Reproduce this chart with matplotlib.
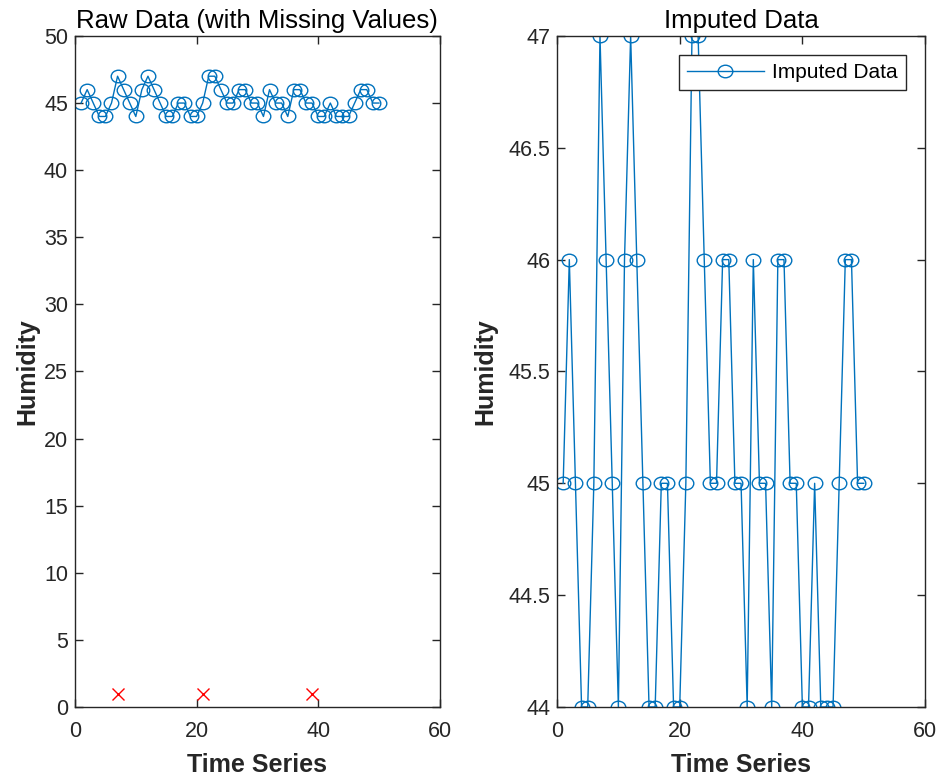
import matplotlib
matplotlib.use('Agg')
import matplotlib.pyplot as plt
from matplotlib.path import Path
from matplotlib.transforms import Affine2D
import numpy as np

plt.rcParams['font.family'] = ['Liberation Sans', 'DejaVu Sans']

# time index and humidity readings
time_idx = np.arange(1, 51)
humidity = [45, 46, 45, 44, 44, 45, 47, 46, 45, 44,
            46, 47, 46, 45, 44, 44, 45, 45, 44, 44,
            45, 47, 47, 46, 45, 45, 46, 46, 45, 45,
            44, 46, 45, 45, 44, 46, 46, 45, 45, 44,
            44, 45, 44, 44, 44, 45, 46, 46, 45, 45]
missing_idx = [7, 21, 39]
missing_flag = [1, 1, 1]

blue = '#0072BD'
dark = '#262626'

# slightly flattened circle, like the markers in the picture
oval = Path.unit_circle().transformed(Affine2D().scale(1.0, 0.86))

fig = plt.figure(figsize=(9.4, 7.78), dpi=100)
ax1 = fig.add_axes([0.0798, 0.0913, 0.388, 0.8625])
ax2 = fig.add_axes([0.5926, 0.0913, 0.3915, 0.8625])

mk = dict(color=blue, lw=1, marker=oval, ms=10.5,
          markerfacecolor='none', markeredgewidth=1)

############ left: raw data ############
ax1.plot(time_idx, humidity, '-', **mk)
ax1.plot(missing_idx, missing_flag, 'x', color='red', ms=9, markeredgewidth=1)
ax1.set_xlim(0, 60)
ax1.set_ylim(0, 50)
ax1.set_xticks([0, 20, 40, 60])
ax1.set_yticks(np.arange(0, 51, 5))
ax1.set_title('Raw Data (with Missing Values)', fontsize=18.5, pad=6)

############ right: imputed data ############
ax2.plot(time_idx, humidity, '-', label='Imputed Data', **mk)
ax2.set_xlim(0, 60)
ax2.set_ylim(44, 47)
ax2.set_xticks([0, 20, 40, 60])
ax2.set_yticks([44, 44.5, 45, 45.5, 46, 46.5, 47])
ax2.set_yticklabels(['44', '44.5', '45', '45.5', '46', '46.5', '47'])
ax2.set_title('Imputed Data', fontsize=18.5, pad=6)
leg = ax2.legend(loc='upper right', fontsize=15, fancybox=False,
                 edgecolor=dark, handlelength=3.7, handletextpad=0.4,
                 borderpad=0.4, borderaxespad=0.9, framealpha=1)
leg.get_frame().set_linewidth(1.0)

for a, lp in ((ax1, 3), (ax2, 8)):
    a.set_xlabel('Time Series', fontsize=18, fontweight='bold',
                 color=dark, labelpad=8)
    a.set_ylabel('Humidity', fontsize=18, fontweight='bold',
                 color=dark, labelpad=lp)
    a.tick_params(direction='in', top=True, right=True, labelsize=15.5,
                  colors=dark, length=6, width=1.0)
    a.tick_params(axis='x', pad=10)
    a.tick_params(axis='y', pad=5)
    for s in a.spines.values():
        s.set_color(dark)
        s.set_linewidth(1.0)

fig.savefig('out.png', dpi=100)
